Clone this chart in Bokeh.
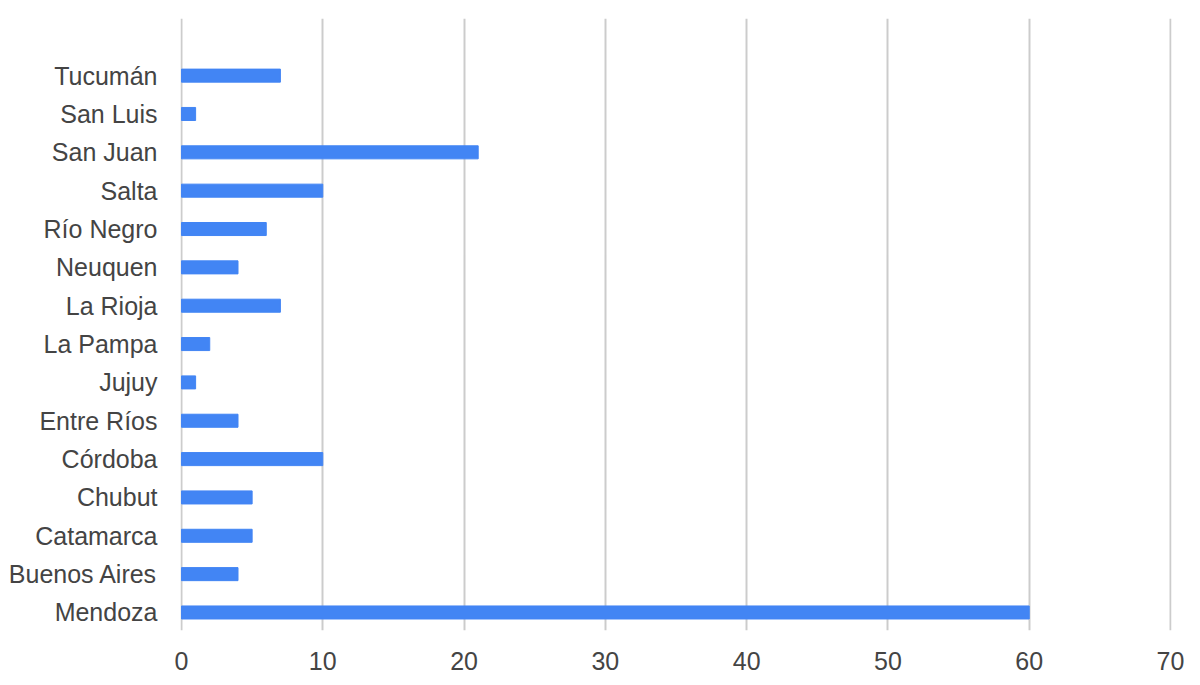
from bokeh.plotting import figure
from bokeh.models import Range1d, FixedTicker, ColumnDataSource
from bokeh.embed import file_html
from bokeh.resources import INLINE

# Data (bottom to top as drawn)
provinces = ["Mendoza", "Buenos Aires", "Catamarca", "Chubut", "Córdoba",
             "Entre Ríos", "Jujuy", "La Pampa", "La Rioja", "Neuquen",
             "Río Negro", "Salta", "San Juan", "San Luis", "Tucumán"]
counts = [60, 4, 5, 5, 10, 4, 1, 2, 7, 4, 6, 10, 21, 1, 7]
x_ticks = [0, 10, 20, 30, 40, 50, 60, 70]

pos = list(range(len(provinces)))
src = ColumnDataSource(dict(y=pos, v=counts, name=provinces))

p = figure(width=1184, height=677, output_backend="svg", toolbar_location=None,
           x_range=Range1d(-0.07, 70.07), y_range=Range1d(-0.47, len(provinces) - 1 + 1.49),
           min_border_left=180, min_border_right=13, min_border_top=18, min_border_bottom=47)

p.hbar(y="y", right="v", left=0, height=0.34, source=src, color="#4285F4")

p.outline_line_color = None
p.background_fill_color = "white"
p.border_fill_color = "white"

p.xaxis.ticker = FixedTicker(ticks=x_ticks)
p.yaxis.ticker = FixedTicker(ticks=pos)
p.yaxis.major_label_overrides = {i: n for i, n in enumerate(provinces)}

for ax in (p.xaxis[0], p.yaxis[0]):
    ax.axis_line_color = None
    ax.major_tick_line_color = None
    ax.minor_tick_line_color = None
    ax.major_tick_out = 0
    ax.major_tick_in = 0
    ax.major_label_text_font = "Liberation Sans"
    ax.major_label_text_font_size = "25px"
    ax.major_label_text_color = "#444444"

p.yaxis.major_label_standoff = 23
p.xaxis.major_label_standoff = 21

p.xgrid.grid_line_color = "#cccccc"
p.xgrid.grid_line_width = 2
p.ygrid.grid_line_color = None

open("out.html", "w").write(file_html(p, INLINE))
